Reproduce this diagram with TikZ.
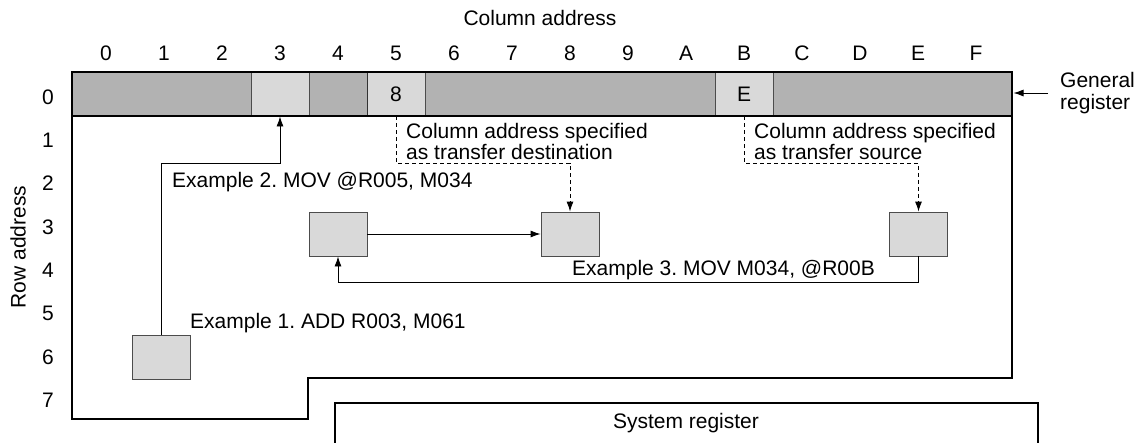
\documentclass[tikz,border=0pt]{standalone}
\usepackage{fontspec}
\setmainfont{Liberation Sans}
\usetikzlibrary{arrows.meta}
\definecolor{darkg}{gray}{0.70}
\definecolor{lightg}{gray}{0.85}
\frenchspacing
\begin{document}
\begin{tikzpicture}[x=1pt,y=-1pt,
  font=\fontsize{21}{21.5}\selectfont,
  frame/.style={line width=2.6pt, line join=miter},
  cellbox/.style={draw=black!70, line width=0.9pt, fill=lightg, minimum width=58pt, minimum height=44pt, inner sep=0pt},
  arr/.style={-{Latex[length=10pt,width=7pt]}, line width=0.9pt},
  dsh/.style={dash pattern=on 4pt off 3pt},
  lbl/.style={inner sep=0pt, anchor=west, align=left},
]
\useasboundingbox (0,0) rectangle (1140,442);

% band
\fill[darkg] (72,72) rectangle (1012,116);
\node[cellbox] (c3) at (280,94) {};
\node[cellbox] (c5) at (396,94) {8};
\node[cellbox] (cB) at (744,94) {E};
\draw[black!80, line width=0.9pt] (367,72) -- (367,116);
\draw[line width=2pt] (72,116) -- (1012,116);

% main frame
\draw[frame] (72,72) -- (1012,72) -- (1012,378) -- (308,378) -- (308,419) -- (72,419) -- cycle;

% system register
\draw[frame] (335,450) -- (335,403) -- (1038,403) -- (1038,450);
\node[inner sep=0pt] (sys) at (686,423) {System register};

% headings
\node[inner sep=0pt] (ctitle) at (540,18) {Column address};
\foreach \c [count=\i from 0] in {0,1,2,3,4,5,6,7,8,9,A,B,C,D,E,F}
  \node[inner sep=0pt] (col\i) at (106+58*\i,53) {\c};
\foreach \r in {0,...,7}
  \node[inner sep=0pt] (row\r) at (48,97+43.3*\r) {\r};
\node[inner sep=0pt, rotate=90] (rtitle) at (18,247) {Row address};

% data boxes
\node[cellbox] (b4) at (338,234) {};
\node[cellbox] (b8) at (570,234) {};
\node[cellbox] (bE) at (918.5,234) {};
\node[cellbox] (b1) at (161,357) {};

% example 1
\coordinate (e1) at (161,163);
\draw[arr] (b1.north) -- (e1) -| (c3.south);
\node[lbl] (ex1) at (190,323) {Example 1. ADD R003, M061};

% example 2
\draw[arr] (b4.east) -- (b8.west);
\node[lbl] (ex2) at (172,182) {Example 2. MOV @R005, M034};

% example 3
\coordinate (e3) at (918.5,282);
\draw[arr] (bE.south) -- (e3) -| (b4.south);
\node[lbl] (ex3) at (572,270) {Example 3. MOV M034, @R00B};

% dashed pointers
\coordinate (d5) at (396,163);
\draw[arr, dsh] (c5.south) -- (d5) -| (b8.north);
\node[lbl] (dest) at (406,141.5) {Column address specified\\as transfer destination};
\coordinate (dB) at (744,163);
\draw[arr, dsh] (cB.south) -- (dB) -| (bE.north);
\node[lbl] (src) at (754,141.5) {Column address specified\\as transfer source};

% general register
\node[lbl] (gen) at (1060,93) {General\\register};
\coordinate (fr) at (1013.5,93);
\draw[arr] (1048,93) -- (fr);
\end{tikzpicture}
\end{document}
